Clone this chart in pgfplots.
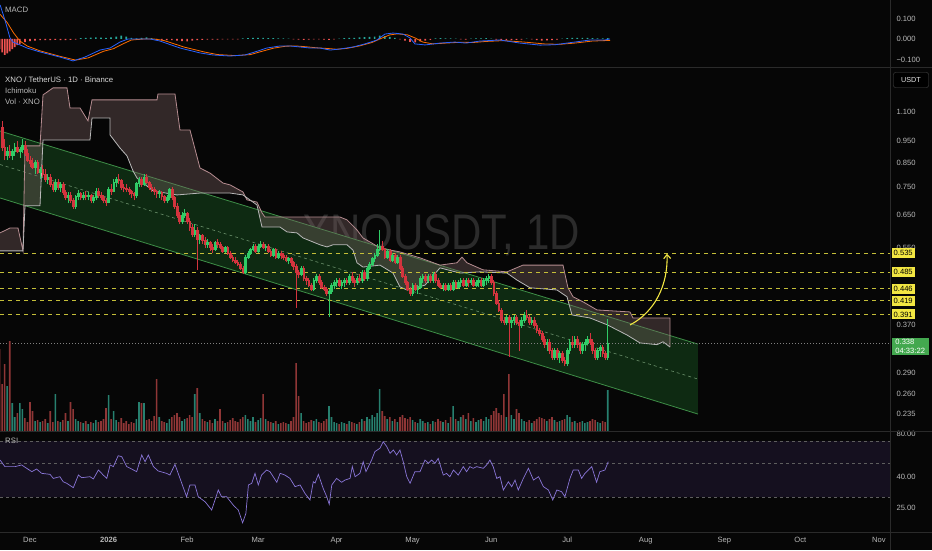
\documentclass[border=0pt]{standalone}
\usepackage{fontspec}
\setmainfont{Liberation Sans}
\usepackage{graphicx}
\usepackage{pgfplots}
\usepackage{pgfplotstable}
\pgfplotsset{compat=1.18}
\usetikzlibrary{arrows.meta}
\pgfdeclareplotmark{nothing}{}
\definecolor{bg}{HTML}{060606}
\definecolor{lbl}{HTML}{B8B8B8}
\definecolor{sep}{HTML}{2A2A2A}
\definecolor{upc}{HTML}{30CC66}
\definecolor{dnc}{HTML}{D3343E}
\definecolor{volg}{HTML}{27806F}
\definecolor{volr}{HTML}{8F3636}
\definecolor{chanfill}{HTML}{0E2A12}
\definecolor{chanline}{HTML}{3E8E47}
\definecolor{chanmid}{HTML}{6A8F6A}
\definecolor{cloudc}{HTML}{7A6262}
\definecolor{pinkc}{HTML}{B58C90}
\definecolor{spanc}{HTML}{B8B8B8}
\definecolor{ylw}{HTML}{F2E642}
\definecolor{ylwline}{HTML}{C4BE38}
\definecolor{wm}{HTML}{2B2B2B}
\definecolor{macdb}{HTML}{2962FF}
\definecolor{macdo}{HTML}{FF6D00}
\definecolor{histp}{HTML}{26A69A}
\definecolor{histn}{HTML}{EF5350}
\definecolor{rsic}{HTML}{8A76D8}
\definecolor{rsiband}{HTML}{15101F}
\definecolor{rsidash}{HTML}{5E5E5E}
\definecolor{grn}{HTML}{43A84F}

\pgfplotstableread{
d o h l c v
-12 1.12 1.16 1.00 1.02 82
-11 1.02 1.05 0.90 0.92 47
-10 0.92 0.96 0.86 0.88 67
-9 0.88 0.92 0.86 0.90 45
-8 0.90 0.93 0.87 0.88 90
-7 0.88 0.91 0.86 0.90 28
-6 0.90 0.94 0.88 0.92 14
-5 0.92 0.95 0.89 0.90 18
-4 0.90 0.92 0.87 0.91 28
-3 0.91 0.96 0.89 0.93 22
-2 0.93 0.95 0.88 0.89 13
-1 0.89 0.91 0.85 0.86 9
0 0.86 0.88 0.83 0.845 29
1 0.845 0.87 0.82 0.83 20
2 0.83 0.86 0.80 0.85 10
3 0.85 0.86 0.80 0.81 11
4 0.81 0.83 0.78 0.82 9
5 0.82 0.84 0.79 0.80 10
6 0.80 0.82 0.77 0.78 12
7 0.78 0.80 0.76 0.79 8
8 0.79 0.80 0.75 0.76 20
9 0.76 0.77 0.73 0.74 9
10 0.74 0.78 0.73 0.77 37
11 0.77 0.78 0.74 0.75 10
12 0.75 0.77 0.73 0.76 9
13 0.76 0.77 0.72 0.73 11
14 0.73 0.74 0.70 0.71 18
15 0.71 0.73 0.69 0.72 10
16 0.72 0.73 0.69 0.70 29
17 0.70 0.71 0.67 0.68 22
18 0.68 0.72 0.67 0.715 12
19 0.715 0.74 0.70 0.725 10
20 0.725 0.73 0.70 0.71 9
21 0.71 0.73 0.70 0.72 8
22 0.72 0.735 0.70 0.715 10
23 0.715 0.73 0.70 0.72 7
24 0.72 0.725 0.69 0.70 9
25 0.70 0.72 0.69 0.71 8
26 0.71 0.745 0.70 0.735 11
27 0.735 0.745 0.71 0.72 9
28 0.72 0.73 0.70 0.71 10
29 0.71 0.72 0.69 0.70 12
30 0.70 0.71 0.68 0.695 23
31 0.695 0.75 0.69 0.74 36
32 0.74 0.76 0.72 0.735 12
33 0.735 0.78 0.73 0.77 20
34 0.77 0.79 0.75 0.78 11
35 0.78 0.80 0.76 0.775 9
36 0.775 0.78 0.74 0.75 13
37 0.75 0.76 0.73 0.745 8
38 0.745 0.76 0.73 0.74 10
39 0.74 0.75 0.72 0.735 7
40 0.735 0.74 0.71 0.725 9
41 0.725 0.73 0.70 0.72 8
42 0.72 0.77 0.71 0.765 12
43 0.765 0.79 0.75 0.78 29
44 0.78 0.79 0.75 0.76 28
45 0.76 0.80 0.755 0.79 28
46 0.79 0.80 0.76 0.77 11
47 0.77 0.775 0.74 0.75 12
48 0.75 0.76 0.73 0.74 10
49 0.74 0.75 0.72 0.735 15
50 0.735 0.74 0.71 0.725 52
51 0.725 0.74 0.71 0.73 14
52 0.73 0.735 0.70 0.715 10
53 0.715 0.72 0.69 0.70 9
54 0.70 0.72 0.69 0.71 8
55 0.71 0.745 0.70 0.74 12
56 0.74 0.75 0.70 0.71 14
57 0.71 0.715 0.67 0.68 16
58 0.68 0.69 0.64 0.65 18
59 0.65 0.66 0.62 0.63 14
60 0.63 0.66 0.62 0.65 10
61 0.65 0.67 0.64 0.655 12
62 0.655 0.66 0.62 0.63 13
63 0.63 0.64 0.60 0.61 16
64 0.61 0.62 0.58 0.59 14
65 0.59 0.62 0.58 0.60 37
66 0.60 0.61 0.49 0.575 43
67 0.575 0.59 0.56 0.585 18
68 0.585 0.59 0.56 0.57 12
69 0.57 0.58 0.55 0.56 10
70 0.56 0.575 0.55 0.565 9
71 0.565 0.57 0.54 0.55 11
72 0.55 0.56 0.535 0.545 8
73 0.545 0.57 0.54 0.565 12
74 0.565 0.575 0.55 0.56 10
75 0.56 0.565 0.545 0.55 22
76 0.55 0.555 0.535 0.54 10
77 0.54 0.555 0.535 0.55 8
78 0.55 0.555 0.53 0.535 9
79 0.535 0.54 0.52 0.525 11
80 0.525 0.53 0.51 0.515 13
81 0.515 0.525 0.505 0.51 10
82 0.51 0.515 0.50 0.505 9
83 0.505 0.51 0.49 0.495 12
84 0.495 0.50 0.48 0.485 14
85 0.485 0.53 0.48 0.525 16
86 0.525 0.54 0.52 0.535 12
87 0.535 0.55 0.53 0.545 10
88 0.545 0.56 0.54 0.555 14
89 0.555 0.56 0.535 0.54 9
90 0.54 0.56 0.535 0.555 11
91 0.555 0.57 0.55 0.56 13
92 0.56 0.565 0.545 0.55 37
93 0.55 0.56 0.54 0.555 12
94 0.555 0.56 0.535 0.54 10
95 0.54 0.545 0.525 0.53 9
96 0.53 0.55 0.525 0.545 8
97 0.545 0.55 0.52 0.525 10
98 0.525 0.54 0.52 0.535 7
99 0.535 0.54 0.52 0.53 8
100 0.53 0.535 0.515 0.525 9
101 0.525 0.53 0.51 0.515 8
102 0.515 0.525 0.505 0.52 7
103 0.52 0.525 0.50 0.51 10
104 0.51 0.515 0.49 0.50 14
105 0.50 0.505 0.405 0.485 68
106 0.485 0.49 0.47 0.48 35
107 0.48 0.50 0.475 0.495 18
108 0.495 0.50 0.465 0.47 10
109 0.47 0.475 0.455 0.465 8
110 0.465 0.47 0.45 0.455 9
111 0.455 0.46 0.44 0.445 11
112 0.445 0.47 0.44 0.465 10
113 0.465 0.48 0.46 0.475 12
114 0.475 0.48 0.455 0.46 9
115 0.46 0.465 0.445 0.45 8
116 0.45 0.455 0.44 0.445 10
117 0.445 0.45 0.43 0.435 12
118 0.435 0.445 0.385 0.44 25
119 0.44 0.46 0.435 0.455 14
120 0.455 0.465 0.445 0.46 9
121 0.46 0.47 0.45 0.465 8
122 0.465 0.47 0.45 0.455 7
123 0.455 0.465 0.445 0.46 9
124 0.46 0.47 0.45 0.465 8
125 0.465 0.47 0.455 0.46 7
126 0.46 0.48 0.455 0.475 10
127 0.475 0.485 0.46 0.465 9
128 0.465 0.47 0.45 0.46 8
129 0.46 0.475 0.455 0.47 7
130 0.47 0.48 0.46 0.465 9
131 0.465 0.49 0.46 0.485 12
132 0.485 0.49 0.465 0.47 10
133 0.47 0.50 0.465 0.495 14
134 0.495 0.51 0.49 0.505 12
135 0.505 0.525 0.50 0.52 16
136 0.52 0.535 0.51 0.53 14
137 0.53 0.56 0.525 0.545 18
138 0.545 0.603 0.54 0.555 42
139 0.555 0.57 0.54 0.545 20
140 0.545 0.55 0.52 0.525 15
141 0.525 0.545 0.52 0.54 12
142 0.54 0.545 0.51 0.515 14
143 0.515 0.535 0.51 0.53 10
144 0.53 0.535 0.505 0.51 12
145 0.51 0.53 0.505 0.525 9
146 0.525 0.53 0.49 0.495 14
147 0.495 0.50 0.47 0.475 16
148 0.475 0.48 0.455 0.46 13
149 0.46 0.465 0.44 0.445 12
150 0.445 0.45 0.43 0.435 14
151 0.435 0.46 0.43 0.455 11
152 0.455 0.46 0.44 0.445 9
153 0.445 0.455 0.435 0.45 8
154 0.45 0.475 0.445 0.47 12
155 0.47 0.48 0.46 0.475 10
156 0.475 0.48 0.46 0.465 8
157 0.465 0.48 0.46 0.475 9
158 0.475 0.48 0.46 0.465 7
159 0.465 0.485 0.46 0.48 10
160 0.48 0.485 0.46 0.465 9
161 0.465 0.47 0.45 0.455 12
162 0.455 0.46 0.445 0.45 10
163 0.45 0.46 0.44 0.455 9
164 0.455 0.46 0.44 0.445 11
165 0.445 0.46 0.44 0.455 8
166 0.455 0.46 0.44 0.445 14
167 0.445 0.465 0.44 0.46 25
168 0.46 0.465 0.445 0.45 12
169 0.45 0.465 0.445 0.46 10
170 0.46 0.47 0.45 0.465 14
171 0.465 0.47 0.45 0.455 16
172 0.455 0.47 0.45 0.465 12
173 0.465 0.47 0.45 0.46 18
174 0.46 0.47 0.455 0.465 10
175 0.465 0.47 0.45 0.455 13
176 0.455 0.465 0.45 0.46 9
177 0.46 0.47 0.45 0.465 11
178 0.465 0.47 0.45 0.455 12
179 0.455 0.47 0.45 0.465 10
180 0.465 0.475 0.455 0.47 14
181 0.47 0.48 0.46 0.475 12
182 0.475 0.48 0.455 0.46 16
183 0.46 0.465 0.43 0.435 20
184 0.435 0.44 0.41 0.415 23
185 0.415 0.42 0.395 0.40 18
186 0.40 0.405 0.375 0.38 16
187 0.38 0.385 0.37 0.375 37
188 0.375 0.39 0.37 0.385 14
189 0.385 0.39 0.315 0.375 57
190 0.375 0.385 0.365 0.38 16
191 0.38 0.39 0.37 0.385 12
192 0.385 0.39 0.37 0.375 22
193 0.375 0.38 0.325 0.37 18
194 0.37 0.385 0.365 0.38 12
195 0.38 0.395 0.375 0.39 10
196 0.39 0.40 0.38 0.385 9
197 0.385 0.39 0.37 0.375 11
198 0.375 0.385 0.37 0.38 8
199 0.38 0.385 0.365 0.37 10
200 0.37 0.375 0.355 0.36 12
201 0.36 0.365 0.35 0.355 14
202 0.355 0.36 0.34 0.345 13
203 0.345 0.35 0.33 0.335 12
204 0.335 0.345 0.325 0.34 10
205 0.34 0.345 0.32 0.325 12
206 0.325 0.33 0.31 0.315 14
207 0.315 0.33 0.31 0.325 11
208 0.325 0.33 0.31 0.315 9
209 0.315 0.325 0.305 0.32 10
210 0.32 0.325 0.305 0.31 11
211 0.31 0.315 0.30 0.305 12
212 0.305 0.33 0.30 0.325 16
213 0.325 0.345 0.32 0.34 14
214 0.34 0.35 0.33 0.335 9
215 0.335 0.35 0.33 0.345 10
216 0.345 0.35 0.33 0.335 8
217 0.335 0.34 0.32 0.325 9
218 0.325 0.34 0.32 0.335 10
219 0.335 0.345 0.325 0.34 8
220 0.34 0.35 0.335 0.345 9
221 0.345 0.355 0.335 0.34 10
222 0.34 0.345 0.32 0.325 12
223 0.325 0.33 0.31 0.315 11
224 0.315 0.33 0.31 0.325 9
225 0.325 0.335 0.315 0.33 8
226 0.33 0.335 0.315 0.32 10
227 0.32 0.325 0.31 0.315 9
228 0.315 0.381 0.31 0.338 41
}\candles

\pgfplotsset{
  panel/.style={
    scale only axis, width=890pt, anchor=south west,
    xmin=-11.84, xmax=339.4,
    axis line style={draw=none}, major tick length=0pt,
    xtick=\empty, yticklabel pos=right,
    yticklabel style={anchor=west, xshift=3pt},
    ticklabel style={font=\fontsize{7.6}{9}\selectfont, text=lbl},
    clip mode=individual,
  },
}

\begin{document}
\begin{tikzpicture}
\fill[bg] (0pt,0pt) rectangle (932pt,-550pt);

% ---------------- MACD ----------------
\begin{axis}[panel, at={(0pt,-67pt)}, height=67pt, ymin=-0.1366, ymax=0.190,
  ytick={-0.1,0,0.1}, yticklabels={−0.100,0.000,0.100}]
\addplot[ybar, bar width=1.7pt, bar shift=0pt, fill=histp, draw=none]
 coordinates {(20,0.004)(22,0.006)(24,0.007)(26,0.008)(28,0.007)(30,0.006)(32,0.008)(34,0.012)(36,0.016)(38,0.012)(40,0.005)(42,0.003)(44,0.006)(46,0.008)(48,0.004)(84,0.003)(86,0.004)(88,0.006)(90,0.006)(92,0.005)(94,0.004)(96,0.004)(98,0.003)(100,0.003)(102,0.002)(122,0.002)(124,0.004)(126,0.006)(128,0.006)(130,0.008)(132,0.009)(134,0.010)(136,0.012)(138,0.016)(140,0.014)(142,0.010)(144,0.005)(160,0.003)(162,0.004)(164,0.003)(166,0.003)(168,0.002)(174,0.002)(176,0.003)(178,0.003)(180,0.004)(182,0.002)(196,0.002)(210,0.002)(212,0.004)(214,0.006)(216,0.006)(218,0.005)(220,0.005)(222,0.004)(224,0.003)(226,0.003)(228,0.004)};
\addplot[ybar, bar width=1.7pt, bar shift=0pt, fill=histn, draw=none]
 coordinates {(-12,-0.05)(-11,-0.065)(-10,-0.078)(-9,-0.07)(-8,-0.06)(-7,-0.05)(-6,-0.04)(-5,-0.03)(-4,-0.025)(-2,-0.015)(0,-0.01)(2,-0.008)(4,-0.006)(6,-0.006)(8,-0.005)(10,-0.004)(12,-0.006)(14,-0.005)(16,-0.004)(18,-0.003)(50,-0.004)(52,-0.005)(54,-0.006)(56,-0.006)(58,-0.008)(60,-0.010)(62,-0.012)(64,-0.008)(66,-0.006)(68,-0.004)(70,-0.003)(72,-0.003)(74,-0.003)(76,-0.002)(78,-0.002)(80,-0.002)(82,-0.002)(104,-0.002)(106,-0.003)(108,-0.004)(110,-0.003)(112,-0.002)(114,-0.002)(116,-0.003)(118,-0.004)(120,-0.002)(146,-0.002)(148,-0.008)(150,-0.014)(152,-0.016)(154,-0.012)(156,-0.008)(158,-0.004)(170,-0.002)(172,-0.003)(184,-0.003)(186,-0.005)(188,-0.006)(190,-0.005)(192,-0.004)(194,-0.003)(198,-0.002)(200,-0.006)(202,-0.008)(204,-0.007)(206,-0.005)(208,-0.003)};
\addplot[macdo, line width=0.8pt] coordinates {(-11.8,0.12)(-9,0.08)(-6.5,0.03)(-4,-0.01)(-1,-0.035)(4,-0.058)(12,-0.085)(18,-0.103)(23,-0.092)(29,-0.06)(33,-0.047)(37,-0.022)(40,-0.005)(45,0.0)(49,0.0)(53,-0.008)(61,-0.040)(69,-0.064)(74,-0.076)(81,-0.081)(87,-0.076)(91,-0.062)(96,-0.045)(101,-0.035)(105,-0.034)(109,-0.038)(113,-0.043)(117,-0.046)(121,-0.050)(125,-0.046)(130,-0.034)(135,-0.017)(139,0.005)(142,0.020)(145,0.025)(149,0.020)(152,0.005)(155,-0.015)(159,-0.024)(164,-0.020)(170,-0.016)(175,-0.017)(180,-0.012)(187,-0.008)(195,-0.015)(203,-0.024)(209,-0.026)(215,-0.020)(222,-0.010)(228.9,-0.007)};
\addplot[macdb, line width=0.8pt] coordinates {(-11.8,0.166)(-9.9,0.093)(-7.9,0.005)(-6.7,-0.015)(-3.9,-0.029)(-1.2,-0.044)(3.9,-0.063)(11.8,-0.088)(17.0,-0.107)(21.7,-0.088)(27.6,-0.054)(31.6,-0.044)(35.5,-0.015)(38.7,0.0)(43.4,0.0)(47.4,0.0)(51.3,-0.010)(59.2,-0.044)(67.1,-0.068)(72.2,-0.078)(78.9,-0.083)(84.8,-0.078)(88.8,-0.063)(93.5,-0.044)(98.7,-0.034)(102.6,-0.034)(106.6,-0.039)(110.5,-0.044)(114.4,-0.044)(118.4,-0.054)(122.3,-0.049)(127.5,-0.039)(132.2,-0.024)(136.9,-0.005)(140.1,0.024)(143.3,0.029)(147.2,0.024)(150.0,0.005)(151.9,-0.024)(155.9,-0.029)(161.8,-0.020)(167.7,-0.015)(172.1,-0.020)(177.6,-0.010)(185.5,-0.005)(193.4,-0.020)(201.3,-0.030)(207.2,-0.028)(213.1,-0.018)(221.0,-0.005)(226.9,-0.005)(228.9,0.0)};
\end{axis}

% ---------------- MAIN PRICE PANEL ----------------
\begin{axis}[panel, at={(0pt,-431pt)}, height=363pt, ymode=log, ymin=0.2155, ymax=1.377,
  ytick={0.235,0.26,0.29,0.37,0.55,0.65,0.75,0.85,0.95,1.1},
  yticklabels={0.235,0.260,0.290,0.370,0.550,0.650,0.750,0.850,0.950,1.100}]
\node[anchor=base west, text=wm, font=\fontsize{50}{50}\selectfont, inner sep=0pt] at (axis cs:107.3,0.5434) {\scalebox{0.84}[1]{XNOUSDT, 1D}};
% channel
\addplot[fill=chanfill, draw=none] coordinates {(-11.84,0.998)(263.6,0.336)(263.6,0.235)(-11.84,0.709)(-11.84,0.998)};
\addplot[chanline, line width=0.8pt] coordinates {(-11.84,0.998)(263.6,0.336)};
\addplot[chanline, line width=0.8pt] coordinates {(-11.84,0.709)(263.6,0.235)};
\addplot[chanmid, line width=0.6pt, dash pattern=on 3pt off 3pt] coordinates {(-11.84,0.841)(263.6,0.281)};
% ichimoku cloud
\addplot[fill=cloudc, fill opacity=0.38, draw=none] coordinates {(-11.84,0.593)(-7.89,0.608)(-4.74,0.608)(-2.76,0.541)(-1.97,0.925)(3.95,0.925)(5.13,1.200)(9.08,1.244)(14.60,1.244)(15.79,1.123)(19.73,1.123)(22.89,1.051)(24.47,1.170)(50.12,1.170)(50.5,1.206)(57.22,1.206)(59.19,1.003)(63.14,1.003)(67.09,0.826)(71.03,0.805)(76.16,0.765)(78.93,0.758)(84.06,0.731)(85.64,0.702)(89.58,0.694)(91.56,0.657)(92.74,0.643)(122.34,0.643)(125.10,0.634)(129.05,0.602)(131.41,0.578)(134.18,0.566)(138.12,0.549)(146.01,0.538)(153.91,0.522)(161.80,0.503)(168.51,0.509)(170.48,0.524)(172.45,0.509)(178.77,0.491)(188.24,0.486)(194.55,0.503)(210.34,0.503)(212.31,0.448)(214.29,0.428)(218.23,0.417)(223.76,0.400)(236.78,0.396)(237.96,0.384)(252.57,0.384)(252.57,0.331)(249.80,0.340)(247.44,0.335)(240.73,0.338)(235.60,0.352)(227.70,0.371)(221.0,0.384)(213.89,0.390)(211.92,0.428)(207.97,0.443)(197.32,0.448)(192.19,0.466)(188.24,0.483)(177.58,0.486)(169.69,0.483)(161.80,0.496)(155.88,0.454)(148.78,0.443)(146.01,0.450)(143.25,0.483)(138.12,0.503)(131.41,0.498)(129.05,0.509)(127.47,0.543)(125.10,0.558)(119.57,0.558)(117.21,0.552)(114.44,0.558)(107.73,0.578)(105.37,0.593)(101.42,0.596)(98.66,0.611)(91.56,0.611)(89.58,0.684)(84.06,0.720)(78.93,0.727)(67.09,0.727)(58.01,0.720)(48.54,0.735)(42.23,0.785)(40.65,0.814)(38.28,0.879)(35.52,0.915)(31.6,0.978)(31.57,1.067)(24.47,1.067)(23.68,0.953)(5.13,0.953)(3.95,0.681)(-1.97,0.681)(-2.76,0.541)(-11.84,0.541)};
\addplot[pinkc, line width=0.8pt] coordinates {(-11.84,0.593)(-7.89,0.608)(-4.74,0.608)(-2.76,0.541)(-1.97,0.925)(3.95,0.925)(5.13,1.200)(9.08,1.244)(14.60,1.244)(15.79,1.123)(19.73,1.123)(22.89,1.051)(24.47,1.170)(50.12,1.170)(50.5,1.206)(57.22,1.206)(59.19,1.003)(63.14,1.003)(67.09,0.826)(71.03,0.805)(76.16,0.765)(78.93,0.758)(84.06,0.731)(85.64,0.702)(89.58,0.694)(91.56,0.657)(92.74,0.643)(122.34,0.643)(125.10,0.634)(129.05,0.602)(131.41,0.578)(134.18,0.566)(138.12,0.549)(146.01,0.538)(153.91,0.522)(161.80,0.503)(168.51,0.509)(170.48,0.524)(172.45,0.509)(178.77,0.491)(188.24,0.486)(194.55,0.503)(210.34,0.503)(212.31,0.448)(214.29,0.428)(218.23,0.417)(223.76,0.400)(236.78,0.396)(237.96,0.384)(252.57,0.384)(252.57,0.331)};
\addplot[spanc, line width=0.8pt] coordinates {(-11.84,0.541)(-2.76,0.541)(-1.97,0.681)(3.95,0.681)(5.13,0.953)(23.68,0.953)(24.47,1.067)(31.57,1.067)(31.6,0.978)(35.52,0.915)(38.28,0.879)(40.65,0.814)(42.23,0.785)(48.54,0.735)(58.01,0.720)(67.09,0.727)(78.93,0.727)(84.06,0.720)(89.58,0.684)(91.56,0.611)(98.66,0.611)(101.42,0.596)(105.37,0.593)(107.73,0.578)(114.44,0.558)(117.21,0.552)(119.57,0.558)(125.10,0.558)(127.47,0.543)(129.05,0.509)(131.41,0.498)(138.12,0.503)(143.25,0.483)(146.01,0.450)(148.78,0.443)(155.88,0.454)(161.80,0.496)(169.69,0.483)(177.58,0.486)(188.24,0.483)(192.19,0.466)(197.32,0.448)(207.97,0.443)(211.92,0.428)(213.89,0.390)(221.0,0.384)(227.70,0.371)(235.60,0.352)(240.73,0.338)(247.44,0.335)(249.80,0.340)(252.57,0.331)};
% horizontal levels
\addplot[ylwline, line width=0.8pt, dash pattern=on 4pt off 4pt] coordinates {(-11.84,0.535)(339.4,0.535)};
\addplot[ylwline, line width=0.8pt, dash pattern=on 4pt off 4pt] coordinates {(-11.84,0.485)(339.4,0.485)};
\addplot[ylwline, line width=0.8pt, dash pattern=on 4pt off 4pt] coordinates {(-11.84,0.446)(339.4,0.446)};
\addplot[ylwline, line width=0.8pt, dash pattern=on 4pt off 4pt] coordinates {(-11.84,0.419)(339.4,0.419)};
\addplot[ylwline, line width=0.8pt, dash pattern=on 4pt off 4pt] coordinates {(-11.84,0.391)(339.4,0.391)};
\addplot[gray, line width=0.6pt, dash pattern=on 1pt off 2pt] coordinates {(-11.84,0.338)(339.4,0.338)};
% candles (one mark per day at the close; wick and body drawn from o,h,l relative to it)
\addplot[scatter, only marks, mark=nothing,
  visualization depends on={\thisrow{o} \as \vo},
  visualization depends on={\thisrow{h} \as \vh},
  visualization depends on={\thisrow{l} \as \vl},
  visualization depends on={\thisrow{c} \as \vc},
  scatter/@pre marker code/.code={%
    \pgfmathsetmacro\cdh{195.72*ln(\vh/\vc)}%
    \pgfmathsetmacro\cdl{195.72*ln(\vl/\vc)}%
    \pgfmathsetmacro\cdo{195.72*ln(\vo/\vc)}%
    \ifdim\cdo pt>0pt \def\ccol{dnc}\else\def\ccol{upc}\fi
    \draw[\ccol, line width=0.6pt] (0pt,\cdl pt) -- (0pt,\cdh pt);
    \fill[\ccol] (-0.9pt,\cdo pt) rectangle (0.9pt,0pt);
  },
  scatter/@post marker code/.code={}]
  table[x=d, y=c] {\candles};
% arrow
\draw[ylw, line width=1.1pt, -{Straight Barb[length=4pt,width=7pt]}] (axis cs:236.8,0.3705) .. controls (axis cs:246.6,0.396) and (axis cs:251.8,0.4544) .. (axis cs:251.4,0.533);
\coordinate (b535) at (axis cs:339.4,0.535);
\coordinate (b485) at (axis cs:339.4,0.485);
\coordinate (b446) at (axis cs:339.4,0.446);
\coordinate (b419) at (axis cs:339.4,0.419);
\coordinate (b391) at (axis cs:339.4,0.391);
\end{axis}

% ---------------- VOLUME ----------------
\begin{axis}[panel, at={(0pt,-431pt)}, height=363pt, ymin=0, ymax=363, ytick=\empty]
\addplot[ybar, bar width=1.6pt, bar shift=0pt, fill=volg, draw=none,
  restrict expr to domain={\thisrow{c}-\thisrow{o}}{0:10}] table[x=d, y=v] {\candles};
\addplot[ybar, bar width=1.6pt, bar shift=0pt, fill=volr, draw=none,
  restrict expr to domain={\thisrow{o}-\thisrow{c}}{0.00001:10}] table[x=d, y=v] {\candles};
\end{axis}

% ---------------- RSI ----------------
\begin{axis}[panel, at={(0pt,-532pt)}, height=100pt, ymin=5, ymax=76.43,
  ytick={75.2,44.3,22.1}, yticklabels={80.00,40.00,25.00},
  xtick={0,31,62,90,121,151,182,212,243,274,304,335},
  xticklabels={Dec,\textbf{2026},Feb,Mar,Apr,May,Jun,Jul,Aug,Sep,Oct,Nov},
  xticklabel style={yshift=-1.5pt}]
\addplot[fill=rsiband, draw=none] coordinates {(-11.84,30)(339.4,30)(339.4,70)(-11.84,70)(-11.84,30)};
\addplot[rsidash, line width=0.6pt, dash pattern=on 3pt off 3pt] coordinates {(-11.84,70)(339.4,70)};
\addplot[rsidash, line width=0.6pt, dash pattern=on 3pt off 3pt] coordinates {(-11.84,54.3)(339.4,54.3)};
\addplot[rsidash, line width=0.6pt, dash pattern=on 3pt off 3pt] coordinates {(-11.84,30)(339.4,30)};
\addplot[rsic, line width=0.7pt] coordinates {(-11.8,56.4)(-9.9,51.7)(-5.9,51.7)(-3.3,52.9)(0.7,48.1)(2.6,50.0)(4.6,46.9)(7.9,46.2)(9.2,43.3)(11.8,44.5)(13.1,40.9)(14.5,39.8)(17.1,36.7)(19.1,45.7)(20.4,43.8)(23.7,44.5)(25.0,42.9)(27.0,49.3)(28.9,45.7)(30.3,43.3)(31.6,52.9)(32.9,51.7)(34.8,59.5)(36.2,58.8)(38.2,51.7)(40.1,50.0)(42.1,48.1)(44.1,60.0)(45.4,55.2)(46.7,60.0)(48.7,51.7)(50.6,48.6)(53.9,46.9)(55.2,45.7)(57.2,53.3)(59.2,43.3)(61.8,30.2)(63.1,38.6)(65.1,38.6)(66.4,30.2)(69.1,26.6)(71.7,20.7)(74.3,35.0)(75.6,30.2)(77.6,30.2)(80.2,24.3)(82.2,20.7)(83.9,11.6)(85.2,18.3)(86.2,38.6)(87.5,39.8)(88.8,46.9)(90.1,38.6)(91.4,45.7)(93.4,49.3)(94.7,48.1)(97.4,40.5)(98.7,46.9)(100.6,45.7)(102.6,43.3)(104.6,37.4)(106.6,38.6)(108.5,32.6)(110.5,27.9)(111.8,40.9)(112.5,40.0)(113.8,46.2)(115.7,36.2)(117.1,30.2)(118.1,24.8)(119.1,38.6)(121.0,43.3)(123.0,40.5)(124.3,42.1)(126.3,43.3)(127.2,51.7)(128.3,44.5)(130.2,46.9)(131.5,55.2)(132.6,48.1)(134.8,56.4)(136.1,62.4)(138.1,64.8)(139.4,69.5)(140.8,66.0)(142.1,61.2)(143.4,63.6)(144.7,60.0)(146.0,63.6)(147.3,55.2)(148.7,44.5)(150.0,39.8)(151.9,48.1)(153.9,48.1)(155.9,56.4)(157.2,54.1)(158.5,56.4)(159.8,54.1)(161.1,57.6)(163.1,45.7)(164.4,46.9)(165.7,44.5)(167.1,49.3)(169.0,45.7)(171.0,51.7)(172.3,48.1)(173.6,51.7)(174.9,50.5)(176.3,51.7)(178.9,50.5)(180.2,52.9)(181.5,56.4)(182.8,51.7)(184.2,43.3)(185.5,44.5)(186.8,35.0)(188.8,40.9)(190.1,37.4)(191.4,42.1)(192.7,35.0)(194.7,43.3)(196.7,50.5)(198.7,42.1)(200.7,44.5)(202.6,37.4)(204.6,35.0)(206.3,27.9)(207.9,35.0)(209.8,33.8)(211.1,30.2)(213.1,43.3)(214.4,49.3)(216.4,49.3)(217.7,43.3)(219.0,46.9)(221.7,51.7)(223.6,40.5)(224.9,48.1)(226.9,49.3)(228.2,55.2)};
\end{axis}

% ---------------- separators ----------------
\draw[sep, line width=0.8pt] (0pt,-67.5pt) -- (932pt,-67.5pt);
\draw[sep, line width=0.8pt] (0pt,-431.5pt) -- (932pt,-431.5pt);
\draw[sep, line width=0.8pt] (0pt,-532pt) -- (932pt,-532pt);
\draw[sep, line width=0.8pt] (890.5pt,0pt) -- (890.5pt,-550pt);

% ---------------- texts ----------------
\begin{scope}[every node/.style={anchor=west, inner sep=0pt, text=lbl, font=\fontsize{7.8}{9}\selectfont}]
\node at (5pt,-10pt) {MACD};
\node[text=white!85!black] at (5pt,-80pt) {XNO / TetherUS · 1D · Binance};
\node at (5pt,-91pt) {Ichimoku};
\node at (5pt,-102pt) {Vol · XNO};
\node at (5pt,-441pt) {RSI};
\end{scope}
\node[draw=white!30!black, fill=black, rounded corners=2pt, text=white!90!black, font=\fontsize{7.2}{8}\selectfont, minimum width=35pt, minimum height=15pt, inner sep=1pt] at (911pt,-80pt) {USDT};
\begin{scope}[every node/.style={anchor=west, fill=ylw, text=black, inner xsep=2pt, inner ysep=1pt, minimum height=10pt, font=\fontsize{7.6}{8}\selectfont}]
\node at ([xshift=1.5pt]b535) {0.535};
\node at ([xshift=1.5pt]b485) {0.485};
\node at ([xshift=1.5pt]b446) {0.446};
\node at ([xshift=1.5pt]b419) {0.419};
\node at ([xshift=1.5pt]b391) {0.391};
\end{scope}
\node[anchor=north west, fill=grn, text=white, inner xsep=3pt, inner ysep=1.5pt, align=left, font=\fontsize{7.6}{9}\selectfont, minimum width=37pt] at (891.5pt,-337.5pt) {0.338\\04:33:22};

\pgfresetboundingbox
\useasboundingbox (0pt,0pt) rectangle (932pt,-550pt);
\end{tikzpicture}
\end{document}
